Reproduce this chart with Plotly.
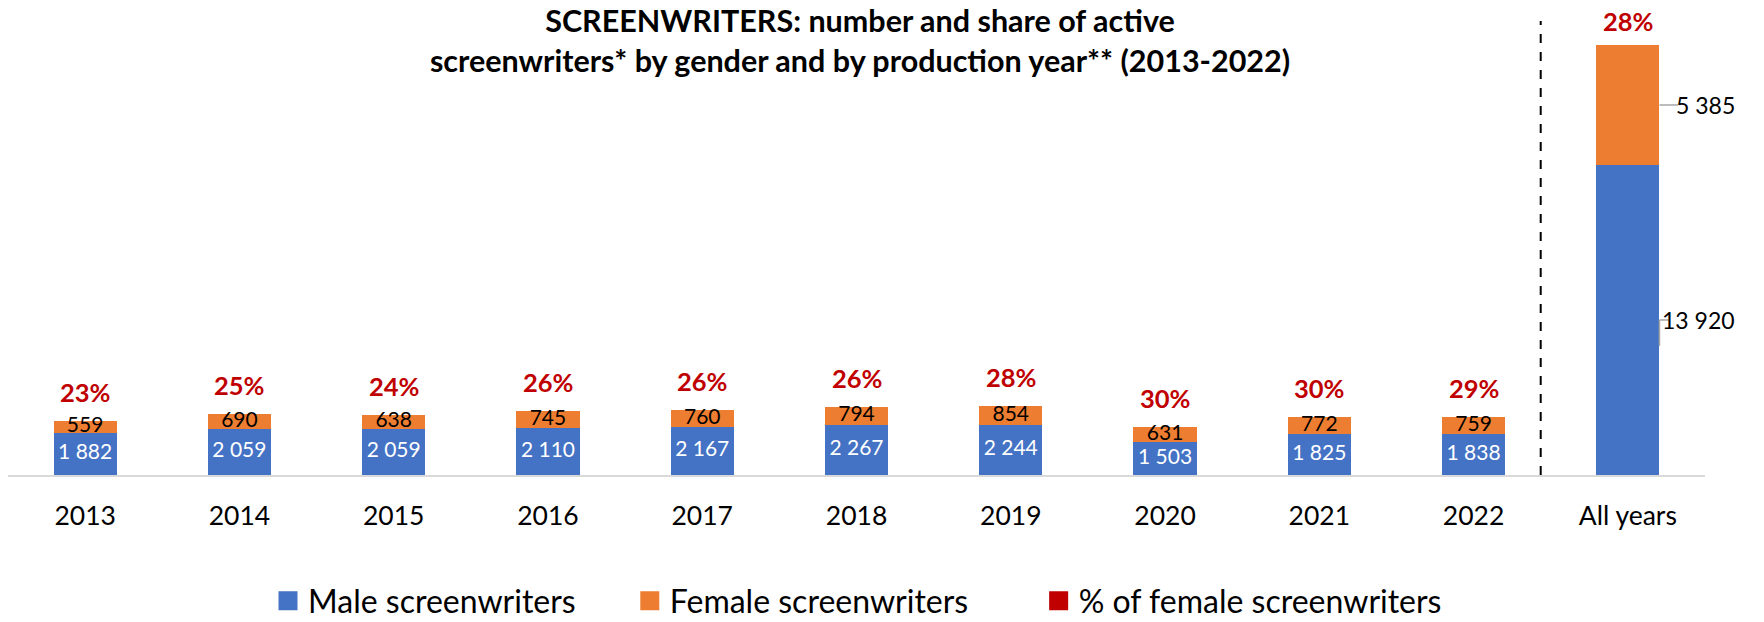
import plotly.graph_objects as go

categories = ["2013", "2014", "2015", "2016", "2017", "2018", "2019", "2020", "2021", "2022", "All years"]
male = [1882, 2059, 2059, 2110, 2167, 2267, 2244, 1503, 1825, 1838, 13920]
female = [559, 690, 638, 745, 760, 794, 854, 631, 772, 759, 5385]
pct_female = ["23%", "25%", "24%", "26%", "26%", "26%", "28%", "30%", "30%", "29%", "28%"]

male_label = ["1 882", "2 059", "2 059", "2 110", "2 167", "2 267", "2 244", "1 503", "1 825", "1 838", "13 920"]
female_label = ["559", "690", "638", "745", "760", "794", "854", "631", "772", "759", "5 385"]

legend_names = ["Male screenwriters", "Female screenwriters", "% of female screenwriters"]

BLUE = "#4472C4"
ORANGE = "#ED7D31"
RED = "#C00000"
FONT = "Lato"

W, H = 1764, 622

fig = go.Figure()
fig.add_trace(go.Bar(x=categories, y=male, name=legend_names[0], marker_color=BLUE,
                     marker_line_width=0, width=0.41, hoverinfo="skip", showlegend=False))
fig.add_trace(go.Bar(x=categories, y=female, name=legend_names[1], marker_color=ORANGE,
                     marker_line_width=0, width=0.41, hoverinfo="skip", showlegend=False))

# legend entries (square swatches)
pads = ["\u00a0" * 6, "\u00a0" * 8, ""]
for name, col, pad in zip(legend_names, [BLUE, ORANGE, RED], pads):
    fig.add_trace(go.Scatter(x=[None], y=[None], mode="markers", name=name + pad,
                             marker=dict(symbol="square", size=16, color=col,
                                         line=dict(color=col, width=3))))

n_years = len(categories) - 1
# in-bar labels for the yearly bars
fig.add_trace(go.Scatter(x=categories[:n_years], y=[m / 2 for m in male[:n_years]],
                         text=male_label[:n_years], mode="text", textposition="middle center",
                         textfont=dict(family=FONT, size=21, color="white"),
                         showlegend=False, hoverinfo="skip"))
fig.add_trace(go.Scatter(x=categories[:n_years], y=[m + f / 2 for m, f in zip(male[:n_years], female[:n_years])],
                         text=female_label[:n_years], mode="text", textposition="middle center",
                         textfont=dict(family=FONT, size=21, color="black"),
                         showlegend=False, hoverinfo="skip"))

annotations = []
last = len(categories) - 1
for i, (m, f, p) in enumerate(zip(male, female, pct_female)):
    annotations.append(dict(x=i, y=m + f, xref="x", yref="y", text="<b>" + p + "</b>",
                            showarrow=False, yanchor="bottom",
                            yshift=(12 if i != last else 7),
                            font=dict(family=FONT, size=25.5, color=RED)))
# labels for "All years" bar, outside with leader lines
annotations.append(dict(x=last, y=male[last] + female[last] / 2, xref="x", yref="y",
                        text=female_label[last], showarrow=False, xanchor="left", xshift=46,
                        font=dict(family=FONT, size=23, color="black")))
annotations.append(dict(x=last, y=male[last] / 2, xref="x", yref="y",
                        text=male_label[last], showarrow=False, xanchor="left", xshift=32,
                        font=dict(family=FONT, size=23, color="black")))

half = 0.205
shapes = [
    dict(type="line", xref="x", yref="y", x0=last + half, x1=last + half + 0.12,
         y0=male[last] + female[last] / 2, y1=male[last] + female[last] / 2,
         line=dict(color="#A6A6A6", width=1.5)),
    dict(type="line", xref="x", yref="y", x0=last + half, x1=last + half + 0.06,
         y0=male[last] / 2, y1=male[last] / 2, line=dict(color="#A6A6A6", width=1.5)),
    dict(type="line", xref="x", yref="y", x0=last + half, x1=last + half,
         y0=male[last] / 2, y1=male[last] / 2 - 1170, line=dict(color="#A6A6A6", width=1.5)),
    dict(type="line", xref="x", yref="paper", x0=last - 0.565, x1=last - 0.565, y0=0, y1=1.02,
         line=dict(color="black", width=2, dash="dash")),
]

fig.update_layout(
    width=W, height=H,
    barmode="stack",
    paper_bgcolor="white", plot_bgcolor="white",
    margin=dict(l=8, r=59, t=30, b=147, autoexpand=False),
    font=dict(family=FONT, color="black"),
    title=dict(text="<b>SCREENWRITERS: number and share of active<br>screenwriters* by gender and by production year** (2013-2022)</b>",
               x=860 / W, xref="container", xanchor="center", y=1 - 32 / H, yanchor="middle",
               font=dict(family=FONT, size=30.5, color="black")),
    xaxis=dict(type="category", showline=True, linecolor="#D9D9D9", linewidth=2,
               ticks="", showgrid=False, tickfont=dict(family=FONT, size=26.5, color="black"),
               ticklabelstandoff=16, range=[-0.5, 10.5], automargin=False),
    yaxis=dict(visible=False, range=[0, 19980], automargin=False),
    showlegend=True,
    legend=dict(orientation="h", xref="container", yref="container", x=268 / W, xanchor="left",
                y=(H - 601) / H, yanchor="middle",
                font=dict(family=FONT, size=32, color="black"), traceorder="normal",
                itemsizing="trace", bgcolor="rgba(0,0,0,0)"),
    annotations=annotations,
    shapes=shapes,
)

# remove the default 8px page margin so the figure fills the window exactly
fig.write_html("out.html", config={"displayModeBar": False},
               post_script="document.body.style.margin='0';")
